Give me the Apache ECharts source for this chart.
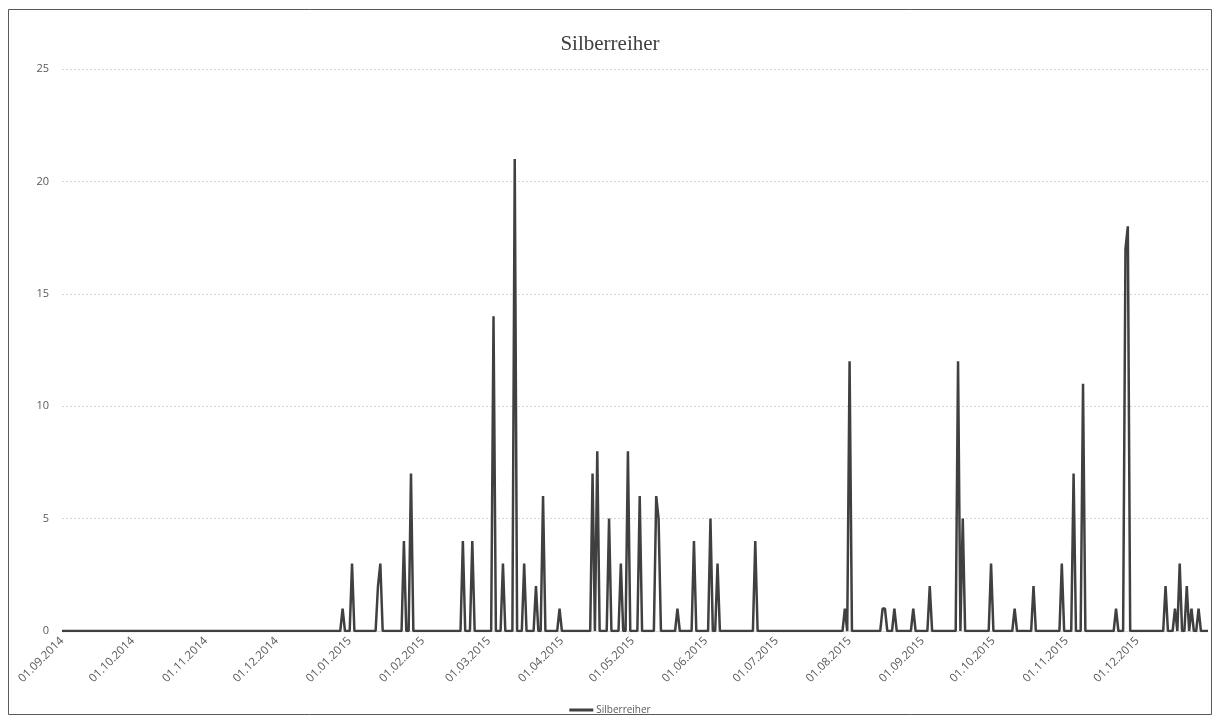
<!DOCTYPE html>
<html>
<head>
<meta charset="utf-8">
<title>Silberreiher</title>
<script src="https://cdn.jsdelivr.net/npm/echarts@6/dist/echarts.min.js"></script>
<style>
  html, body { margin: 0; padding: 0; background: #ffffff; }
  #chart { width: 1220px; height: 722px; }
</style>
</head>
<body>
<div id="chart"></div>
<script>
// Observation period (daily counts, zero on days without sightings)
const periodStart = '2014-09-01';
const periodEnd = '2015-12-31';

// Days with sightings and the number of birds counted
const sightingDates = [
  '2014-12-29', '2015-01-02', '2015-01-13', '2015-01-14', '2015-01-24', '2015-01-27',
  '2015-02-18', '2015-02-22',
  '2015-03-03', '2015-03-07', '2015-03-12', '2015-03-16', '2015-03-21', '2015-03-24', '2015-03-31',
  '2015-04-14', '2015-04-16', '2015-04-21', '2015-04-26', '2015-04-29',
  '2015-05-04', '2015-05-11', '2015-05-12', '2015-05-20', '2015-05-27',
  '2015-06-03', '2015-06-06', '2015-06-22',
  '2015-07-30', '2015-08-01', '2015-08-15', '2015-08-16', '2015-08-20', '2015-08-28',
  '2015-09-04', '2015-09-16', '2015-09-18', '2015-09-30',
  '2015-10-10', '2015-10-18', '2015-10-30',
  '2015-11-04', '2015-11-08', '2015-11-22', '2015-11-26', '2015-11-27',
  '2015-12-13', '2015-12-17', '2015-12-19', '2015-12-22', '2015-12-24', '2015-12-27'
];
const sightingCounts = [
  1, 3, 2, 3, 4, 7,
  4, 4,
  14, 3, 21, 3, 2, 6, 1,
  7, 8, 5, 3, 8,
  6, 6, 5, 1, 4,
  5, 3, 4,
  1, 12, 1, 1, 1, 1,
  2, 12, 5, 3,
  1, 2, 3,
  7, 11, 1, 17, 18,
  2, 1, 3, 2, 1, 1
];

// Value axis ticks
const yTicks = [0, 5, 10, 15, 20, 25];

const seriesName = 'Silberreiher';

// Build the daily category list and the matching counts
function pad(n) { return n < 10 ? '0' + n : '' + n; }
function isoOf(d) { return d.getUTCFullYear() + '-' + pad(d.getUTCMonth() + 1) + '-' + pad(d.getUTCDate()); }
function labelOf(d) { return pad(d.getUTCDate()) + '.' + pad(d.getUTCMonth() + 1) + '.' + d.getUTCFullYear(); }

const countByDay = {};
sightingDates.forEach((iso, i) => { countByDay[iso] = sightingCounts[i]; });

const dayLabels = [];
const dayCounts = [];
for (let d = new Date(periodStart + 'T00:00:00Z'); isoOf(d) <= periodEnd; d.setUTCDate(d.getUTCDate() + 1)) {
  dayLabels.push(labelOf(d));
  dayCounts.push(countByDay[isoOf(d)] || 0);
}

const chart = echarts.init(document.getElementById('chart'), null, { renderer: 'canvas' });

const labelFont = '"Open Sans", "Liberation Sans", sans-serif';

chart.setOption({
  backgroundColor: '#ffffff',
  animation: false,
  title: {
    text: seriesName,
    left: 'center',
    top: 29,
    textStyle: {
      fontFamily: '"Liberation Serif", "DejaVu Serif", serif',
      fontSize: 21,
      fontWeight: 'normal',
      color: '#404040'
    }
  },
  graphic: [{
    type: 'rect',
    shape: { x: 8.5, y: 9.5, width: 1203, height: 705 },
    style: { fill: 'none', stroke: '#595959', lineWidth: 1 },
    silent: true,
    z: 0
  }],
  legend: {
    bottom: 2,
    left: 'center',
    icon: 'rect',
    itemWidth: 24,
    itemHeight: 3,
    itemGap: 4,
    textStyle: { fontFamily: labelFont, fontSize: 10, color: '#595959', padding: [0, 0, 0, -2] },
    data: [seriesName]
  },
  grid: { left: 62, right: 12, top: 69, bottom: 91 },
  xAxis: {
    type: 'category',
    data: dayLabels,
    boundaryGap: false,
    axisLine: { show: true, lineStyle: { color: '#d9d9d9' } },
    axisTick: { show: false },
    splitLine: { show: false },
    axisLabel: {
      rotate: 45,
      margin: 8,
      fontFamily: labelFont,
      fontSize: 11.5,
      color: '#595959',
      interval: function (index, value) { return value.slice(0, 2) === '01'; }
    }
  },
  yAxis: {
    type: 'value',
    min: yTicks[0],
    max: yTicks[yTicks.length - 1],
    interval: yTicks[1] - yTicks[0],
    axisLine: { show: false },
    axisTick: { show: false },
    axisLabel: { margin: 13, fontFamily: labelFont, fontSize: 11, color: '#595959' },
    splitLine: { show: true, lineStyle: { color: '#d4d4d4', type: [2, 2], width: 1 } }
  },
  series: [{
    name: seriesName,
    type: 'line',
    data: dayCounts,
    showSymbol: false,
    symbol: 'none',
    lineStyle: { color: '#404040', width: 2.5 },
    itemStyle: { color: '#404040' }
  }]
});
</script>
</body>
</html>
